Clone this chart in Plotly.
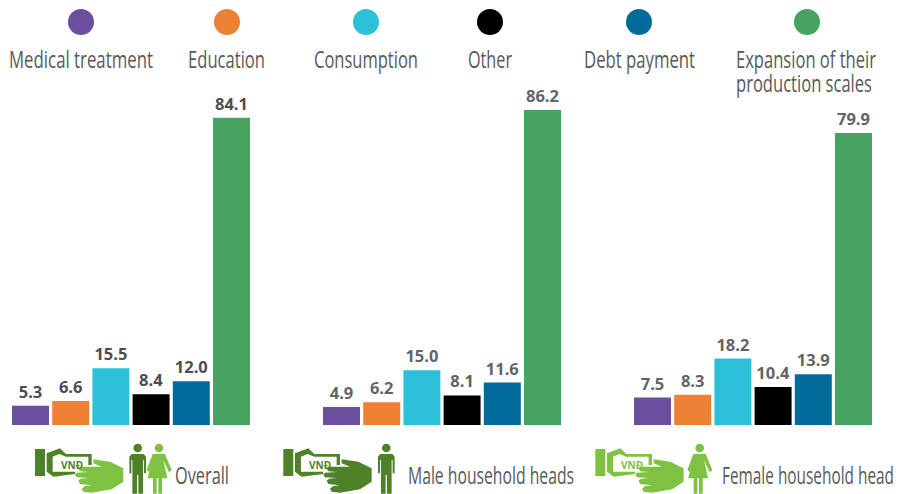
import json
import plotly.graph_objects as go

W, H = 904, 494
categories = ["Medical treatment", "Education", "Consumption", "Other", "Debt payment", "Expansion of their<br>production scales"]
colors = ["#6b4f9e", "#ec8035", "#2cc1d9", "#000000", "#006a9b", "#47a362"]
overall = [5.3, 6.6, 15.5, 8.4, 12.0, 84.1]
male_heads = [4.9, 6.2, 15.0, 8.1, 11.6, 86.2]
female_heads = [7.5, 8.3, 18.2, 10.4, 13.9, 79.9]
panel_labels = ["Overall", "Male household heads", "Female household head"]

DARK, LIGHT = "#4f8129", "#7fc241"
TEXT = "#58595b"
FONT = "Open Sans"

def px(x): return x / W
def py(y): return 1 - y / H

fig = go.Figure()
panels = [(overall, 10.4, "x", "y", "#4d4d4f"),
          (male_heads, 321.4, "x2", "y2", "#636466"),
          (female_heads, 632.4, "x3", "y3", "#636466")]
base_y, top_y = 425, 95
ymax = (base_y - top_y) / 3.654
for vals, left, xa, ya, tc in panels:
    fig.add_trace(go.Bar(x=categories, y=vals, xaxis=xa, yaxis=ya, width=0.92,
                         marker=dict(color=colors, line=dict(width=0)),
                         text=[f"{v:.1f}" for v in vals], textposition="outside",
                         textangle=0, cliponaxis=False, constraintext="none",
                         textfont=dict(family="Open Sans", size=16.5, color=tc, weight=700),
                         hoverinfo="x+y", showlegend=False))
    suffix = xa[1:]
    ax = dict(domain=[px(left), px(left + 241.2)], visible=False, fixedrange=True,
              categoryorder="array", categoryarray=categories, anchor=ya)
    ay = dict(domain=[py(base_y), py(top_y)], visible=False, range=[0, ymax], fixedrange=True, anchor=xa)
    fig.layout["xaxis" + suffix] = ax
    fig.layout["yaxis" + suffix] = ay

shapes, annos = [], []
text_widths = {}

def poly(points, ox, oy, color):
    d = "M" + " L".join(f"{px(ox + a)},{py(oy + b)}" for a, b in points) + " Z"
    shapes.append(dict(type="path", xref="paper", yref="paper", path=d,
                       fillcolor=color, line=dict(width=0)))

def circle(cx, cy, r, color):
    shapes.append(dict(type="circle", xref="paper", yref="paper",
                       x0=px(cx - r), x1=px(cx + r), y0=py(cy + r), y1=py(cy - r),
                       fillcolor=color, line=dict(width=0)))

def label(x, y, text, width, size=24):
    text_widths[text] = width
    annos.append(dict(xref="paper", yref="paper", x=px(x - 1.5), y=py(y - 1), text=text,
                      showarrow=False, xanchor="left", yanchor="middle", align="left", borderpad=0,
                      font=dict(family=FONT, size=size, color=TEXT)))

def small(x, y, text, color):
    annos.append(dict(xref="paper", yref="paper", x=px(x), y=py(y), text=f"<b>{text}</b>",
                      showarrow=False, xanchor="center", yanchor="middle",
                      font=dict(family="Open Sans", size=10, color=color)))

def z(points, zx0=15, zy0=0):
    return [((a - zx0) / 3, (b - zy0) / 3) for a, b in points]

CUFF = z([(15, 27), (45, 27), (45, 108), (15, 108)])
GRIP = z([(50, 40), (90, 25), (108, 42), (185, 42), (185, 75), (175, 75), (175, 50), (108, 50), (88, 42),
          (68, 50), (68, 95), (135, 95), (135, 102), (70, 110), (50, 95)])
HAND = z([(190, 58), (240, 65), (280, 85), (280, 125), (245, 148), (185, 158), (160, 155), (155, 146), (165, 138),
          (185, 136), (150, 132), (145, 122), (152, 116), (175, 114), (140, 112), (135, 104), (140, 98), (175, 96),
          (150, 94), (145, 86), (150, 80), (215, 80), (190, 70)])
MAN = z([(-25, 26), (-18, 18), (18, 18), (25, 26), (25, 76), (19, 76), (19, 36), (16, 36), (16, 137), (2, 137),
         (2, 81), (-2, 81), (-2, 137), (-16, 137), (-16, 36), (-19, 36), (-19, 76), (-25, 76)], 0, 0)
WOMAN = z([(-19, 18), (18, 18), (38, 66), (30, 73), (13, 36), (25, 91), (9, 91), (9, 137), (-2, 137), (-2, 91),
           (-7, 91), (-7, 137), (-18, 137), (-18, 91), (-35, 91), (-19, 38), (-29, 73), (-37, 66)], 0, 0)

def hand_icon(ox, grip_color, hand_color):
    poly(CUFF, ox, 440, grip_color)
    poly(GRIP, ox, 440, grip_color)
    poly(HAND, ox, 440, hand_color)
    small(ox + 36.5, 465, "VNĐ", grip_color)

def man(cx, color):
    circle(cx, 448, 4.3, color)
    poly(MAN, cx, 448, color)

def woman(cx, color):
    circle(cx, 448, 4.3, color)
    poly(WOMAN, cx, 448, color)

swatch_x = [81, 227, 366, 490, 639, 807]
label_left = [9, 188, 314, 468, 584, 736]
label_width = [144, 77, 104, 44, 111, 140]
for cx, lx, lw, color, name in zip(swatch_x, label_left, label_width, colors, categories):
    circle(cx, 22, 13, color)
    if "<br>" in name:
        first, second = name.split("<br>")
        label(lx, 59, first, lw)
        label(lx, 84, second, 136)
    else:
        label(lx, 59, name, lw)

hand_icon(35, DARK, LIGHT)
man(137.7, DARK)
woman(159, LIGHT)
label(175, 475, panel_labels[0], 54)

hand_icon(283.3, DARK, DARK)
man(386.3, DARK)
label(408, 475, panel_labels[1], 166)

hand_icon(595.3, LIGHT, LIGHT)
woman(699.7, LIGHT)
label(722, 475, panel_labels[2], 172)

fig.update_layout(width=W, height=H, margin=dict(l=0, r=0, t=0, b=0), bargap=0.08,
                  paper_bgcolor="white", plot_bgcolor="white", shapes=shapes, annotations=annos,
                  font=dict(family=FONT), showlegend=False)
script = ("document.body.style.margin='0';document.body.style.overflow='hidden';"
          "var tw=" + json.dumps(text_widths) + ";"
          "document.querySelectorAll('.annotation-text').forEach(function(t){"
          "var w=tw[t.textContent];if(w){t.setAttribute('textLength',w);"
          "t.setAttribute('lengthAdjust','spacingAndGlyphs');}});")
fig.write_html("out.html", config=dict(displayModeBar=False), post_script=script)
